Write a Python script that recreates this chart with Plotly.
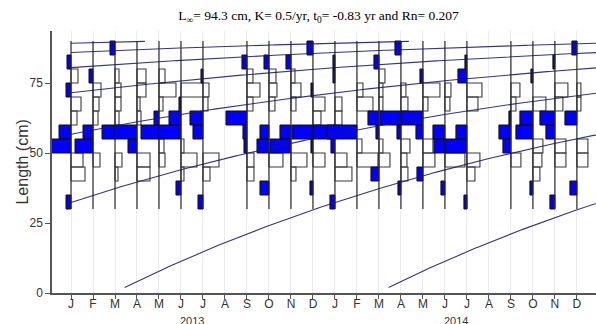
import numpy as np
import plotly.graph_objects as go

# ---------------- data ----------------
sample_dates = ["2013-01", "2013-02", "2013-03", "2013-04", "2013-05", "2013-06", "2013-07",
                "2013-09", "2013-10", "2013-11", "2013-12",
                "2014-01", "2014-02", "2014-03", "2014-04", "2014-05", "2014-06", "2014-07",
                "2014-09", "2014-10", "2014-11", "2014-12"]

bin_lower = [30, 35, 40, 45, 50, 55, 60, 65, 70, 75, 80, 85]
bin_width = 5

# restructured scores per sample (bins 30-35 ... 85-90); >0 peaks (blue), <0 troughs (white)
rcounts = [
    [5, 0, -14, -12, 24, 12, -6, -10, 5, -7, 4, 0],
    [0, 0, 0, -7, 18, 10, -5, -6, -8, 4, 0, 0],
    [0, 0, -3, -7, 0, 13, -4, -6, -6, -4, 0, 5],
    [0, 0, -13, -13, 9, 23, -4, -3, -9, -9, 0, 0],
    [0, 0, 0, -6, -5, 18, 5, -4, -17, -6, 0, 0],
    [0, 5, -3, -16, -3, 23, 12, 2, -23, 0, 0, 0],
    [5, 0, -7, -16, 0, 10, 13, -5, -6, 2, 0, 0],
    [0, 0, -7, -7, 3, 4, 21, -6, -13, -6, 5, 0],
    [0, 9, 0, -14, 12, 9, 0, -6, -8, -7, 5, 0],
    [0, 0, -5, -16, 21, 11, 0, -5, -10, -4, 5, 0],
    [0, 3, 0, -12, 2, 21, -8, -12, 2, 0, 0, 6],
    [5, 0, -17, -12, 4, 22, -7, -7, 0, 2, 2, 0],
    [0, 0, 0, -21, -5, 30, 0, -16, -6, 0, 0, 0],
    [0, 0, 8, -11, -4, 3, 11, -4, -4, -6, 5, 0],
    [0, 3, -7, -6, -9, 4, 21, -7, -5, 0, 0, 6],
    [0, 0, 6, -12, -10, 7, 22, -5, -17, 3, 0, 0],
    [0, 4, 0, -20, 11, 12, 0, -5, -6, 0, 0, 0],
    [3, 0, -8, -13, 22, 11, 0, -11, -15, 9, 2, 0],
    [0, 0, 0, -10, 8, 12, 2, -5, -9, 0, 0, 0],
    [0, 3, -7, -9, -10, 17, 13, -13, 0, 2, 0, 0],
    [5, 0, 0, -11, -11, 9, 15, -8, -13, 0, 2, 0],
    [0, 7, 0, -11, -11, 0, 12, -4, -4, 0, 0, 5],
]

# VBGF parameters
Linf = 94.3
K = 0.5
t_anchor = 0.16          # fraction of year of cohort birth
cohort_years = [2007, 2008, 2009, 2010, 2011, 2012, 2013, 2014]
age_min, age_max = 0.043, 6.12

month_letters = ["J", "F", "M", "A", "M", "J", "J", "A", "S", "O", "N", "D"]
years = [2013, 2014]
title_text = ("L<sub>\u221e</sub>= 94.3 cm, K= 0.5/yr, t<sub>0</sub>= -0.83 yr and Rn= 0.207")
y_title = "Length (cm)"

# ---------------- helpers ----------------
SCALE = 1.0 / 264.0   # years of axis per score unit


def dec_year(s):
    y, m = s.split("-")
    return int(y) + (int(m) - 1) / 12.0


xs_samples = [dec_year(s) for s in sample_dates]
x_min = 2012.928
x_max = 2014.989

fig = go.Figure()

for xs, sc in zip(xs_samples, rcounts):
    bx, by, wx, wy = [], [], [], []
    for lo, v in zip(bin_lower, sc):
        if v == 0:
            continue
        hi = lo + bin_width
        if v > 0:
            x0 = xs - v * SCALE
            bx += [x0, xs, xs, x0, x0, None]
            by += [lo, lo, hi, hi, lo, None]
        else:
            x1 = xs - v * SCALE
            wx += [xs, x1, x1, xs, xs, None]
            wy += [lo, lo, hi, hi, lo, None]
    if wx:
        fig.add_trace(go.Scatter(x=wx, y=wy, mode="lines", fill="toself",
                                 fillcolor="white", line=dict(color="#3a3a3a", width=1.1),
                                 hoverinfo="skip", showlegend=False))
    if bx:
        fig.add_trace(go.Scatter(x=bx, y=by, mode="lines", fill="toself",
                                 fillcolor="#0000ff", line=dict(color="#111", width=1),
                                 hoverinfo="skip", showlegend=False))
    fig.add_trace(go.Scatter(x=[xs, xs], y=[bin_lower[0], bin_lower[-1] + bin_width],
                             mode="lines", line=dict(color="#2a2a2a", width=1.2),
                             hoverinfo="skip", showlegend=False))

# growth curves
t_start = xs_samples[0]
for cy in cohort_years:
    birth = cy + t_anchor
    t0 = max(t_start, birth + age_min)
    t1 = min(x_max + 0.05, birth + age_max)
    if t1 <= t0:
        continue
    t = np.linspace(t0, t1, 200)
    L = Linf * (1 - np.exp(-K * (t - birth)))
    fig.add_trace(go.Scatter(x=t, y=L, mode="lines",
                             line=dict(color="rgba(25,25,105,0.88)", width=1.1),
                             hoverinfo="skip", showlegend=False))

tickvals = [y + m / 12.0 for y in years for m in range(12)]
ticktext = [month_letters[m] for y in years for m in range(12)]

annotations = []
for y in years:
    annotations.append(dict(x=y + 0.458, y=-0.105, xref="x", yref="paper",
                            text=str(y), showarrow=False,
                            font=dict(family="Liberation Sans", size=11, color="#333"),
                            xanchor="center", yanchor="middle"))
annotations.append(dict(x=-0.056, y=0.5, xref="paper", yref="paper", text=y_title,
                        textangle=-90, showarrow=False, xanchor="center", yanchor="middle",
                        font=dict(family="Liberation Sans", size=16, color="#333")))

fig.update_layout(
    width=596, height=324,
    margin=dict(l=52, r=0, t=31, b=31),
    paper_bgcolor="white", plot_bgcolor="white",
    title=dict(text=title_text, x=0.49, xref="paper", y=1 - 15 / 324, yref="container",
               xanchor="center", yanchor="middle",
               font=dict(family="Liberation Serif", size=13.5, color="black")),
    annotations=annotations,
    xaxis=dict(range=[x_min, x_max], tickvals=tickvals, ticktext=ticktext,
               showgrid=True, gridcolor="#ececec", gridwidth=1,
               ticks="outside", ticklen=4, tickcolor="#555", tickwidth=1,
               ticklabelstandoff=-5,
               showline=True, linecolor="#555", linewidth=1.5, zeroline=False,
               tickfont=dict(family="Liberation Sans", size=12, color="#333")),
    yaxis=dict(range=[0, 93.57], tickvals=[0, 25, 50, 75],
               showgrid=False, ticks="outside", ticklen=5, tickcolor="#555",
               showline=True, linecolor="#555", linewidth=1.5, zeroline=False,
               tickfont=dict(family="Liberation Sans", size=12, color="#333")),
)

fig.write_html("out.html")
